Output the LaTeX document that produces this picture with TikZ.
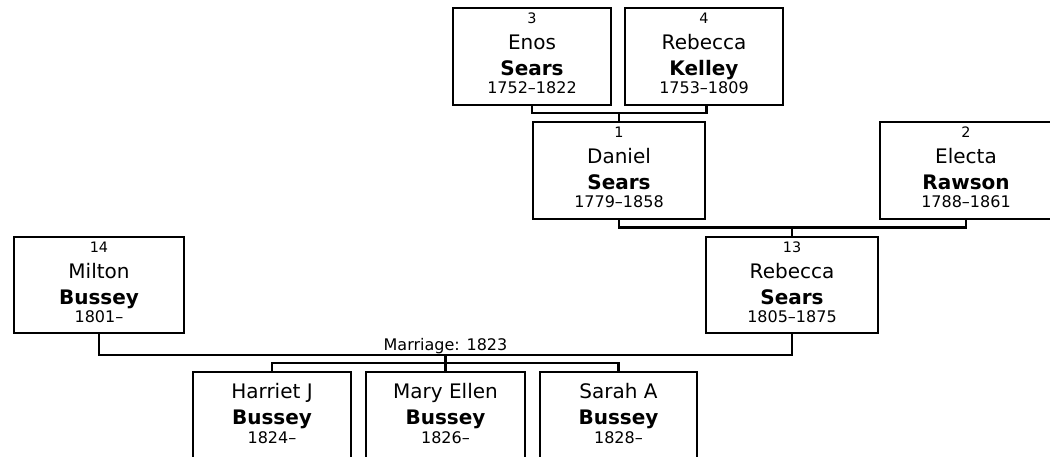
\documentclass[tikz,border=0pt]{standalone}
\usepackage{fontspec}
\setmainfont{DejaVu Sans}
\newcommand\numf{\fontsize{14.4}{16}\selectfont}
\newcommand\namef{\fontsize{20}{24}\selectfont}
\newcommand\surf{\fontsize{20}{24}\selectfont\bfseries}
\newcommand\yrf{\fontsize{16}{19}\selectfont}
\tikzset{
  pbox/.style={draw=black, line width=2.5pt, fill=white, rectangle, inner sep=0pt},
  txt/.style={anchor=base, inner sep=0pt, text=black},
  link/.style={draw=black, line width=2.5pt}
}
\newcommand\famnode[9]{%
  \node[pbox, minimum width={(#4-#2)*1pt}, minimum height={(#5-#3)*1pt}] (#1) at ({(#2+#4)/2},{(#3+#5)/2}) {};
  \node[txt, font=\numf] (#1-a) at ([yshift=-16.3pt]#1.north) {#6};
  \node[txt, font=\namef] (#1-b) at ([yshift=-42.5pt]#1.north) {#7};
  \node[txt, font=\surf] (#1-c) at ([yshift=-68.3pt]#1.north) {#8};
  \node[txt, font=\yrf] (#1-d) at ([yshift=-87pt]#1.north) {#9};
}
\newcommand\kidnode[8]{%
  \node[pbox, minimum width={(#4-#2)*1pt}, minimum height={(#5-#3)*1pt}] (#1) at ({(#2+#4)/2},{(#3+#5)/2}) {};
  \node[txt, font=\namef] (#1-b) at ([yshift=-27.3pt]#1.north) {#6};
  \node[txt, font=\surf] (#1-c) at ([yshift=-54pt]#1.north) {#7};
  \node[txt, font=\yrf] (#1-d) at ([yshift=-72.3pt]#1.north) {#8};
}
\begin{document}
\begin{tikzpicture}[x=1pt, y=-1pt]
\useasboundingbox (0,0) rectangle (1050,456);
\clip (0,0) rectangle (1050,456);
\fill[white] (0,0) rectangle (1050,456);

\famnode{n3}{453}{8}{611}{105}{3}{Enos}{Sears}{1752–1822}
\famnode{n4}{625}{8}{783}{105}{4}{Rebecca}{Kelley}{1753–1809}
\famnode{n1}{533}{122}{705}{219}{1}{Daniel}{Sears}{1779–1858}
\famnode{n2}{880}{122}{1052}{219}{2}{Electa}{Rawson}{1788–1861}
\famnode{n13}{706}{237}{878}{333}{13}{Rebecca}{Sears}{1805–1875}
\famnode{n14}{14}{237}{184}{333}{14}{Milton}{Bussey}{1801–}
\kidnode{c1}{193}{372}{351}{470}{Harriet J}{Bussey}{1824–}
\kidnode{c2}{366}{372}{525}{470}{Mary Ellen}{Bussey}{1826–}
\kidnode{c3}{540}{372}{697}{470}{Sarah A}{Bussey}{1828–}

\coordinate (m1) at (619,113);
\coordinate (m2) at (792,227.5);
\coordinate (m3) at (445.5,355);
\coordinate (m4) at (445.5,363);

\draw[link] (n3.south -| n1.west) |- (m1) -| (n4.south -| n1.east);
\draw[link] (m1) -- (n1.north);
\draw[link] (n1.south) |- (m2) -| (n2.south);
\draw[link] (m2) -- (n13.north);
\draw[link] (n14.south) |- (m3) -| (n13.south);
\draw[link] (m3) -- (m4);
\draw[link] (c1.north) |- (m4) -| (c3.north);
\draw[link] (m4) -- (c2.north);
\node[txt, font=\yrf] (ml) at (445.5,350) {Marriage: 1823};
\end{tikzpicture}
\end{document}
